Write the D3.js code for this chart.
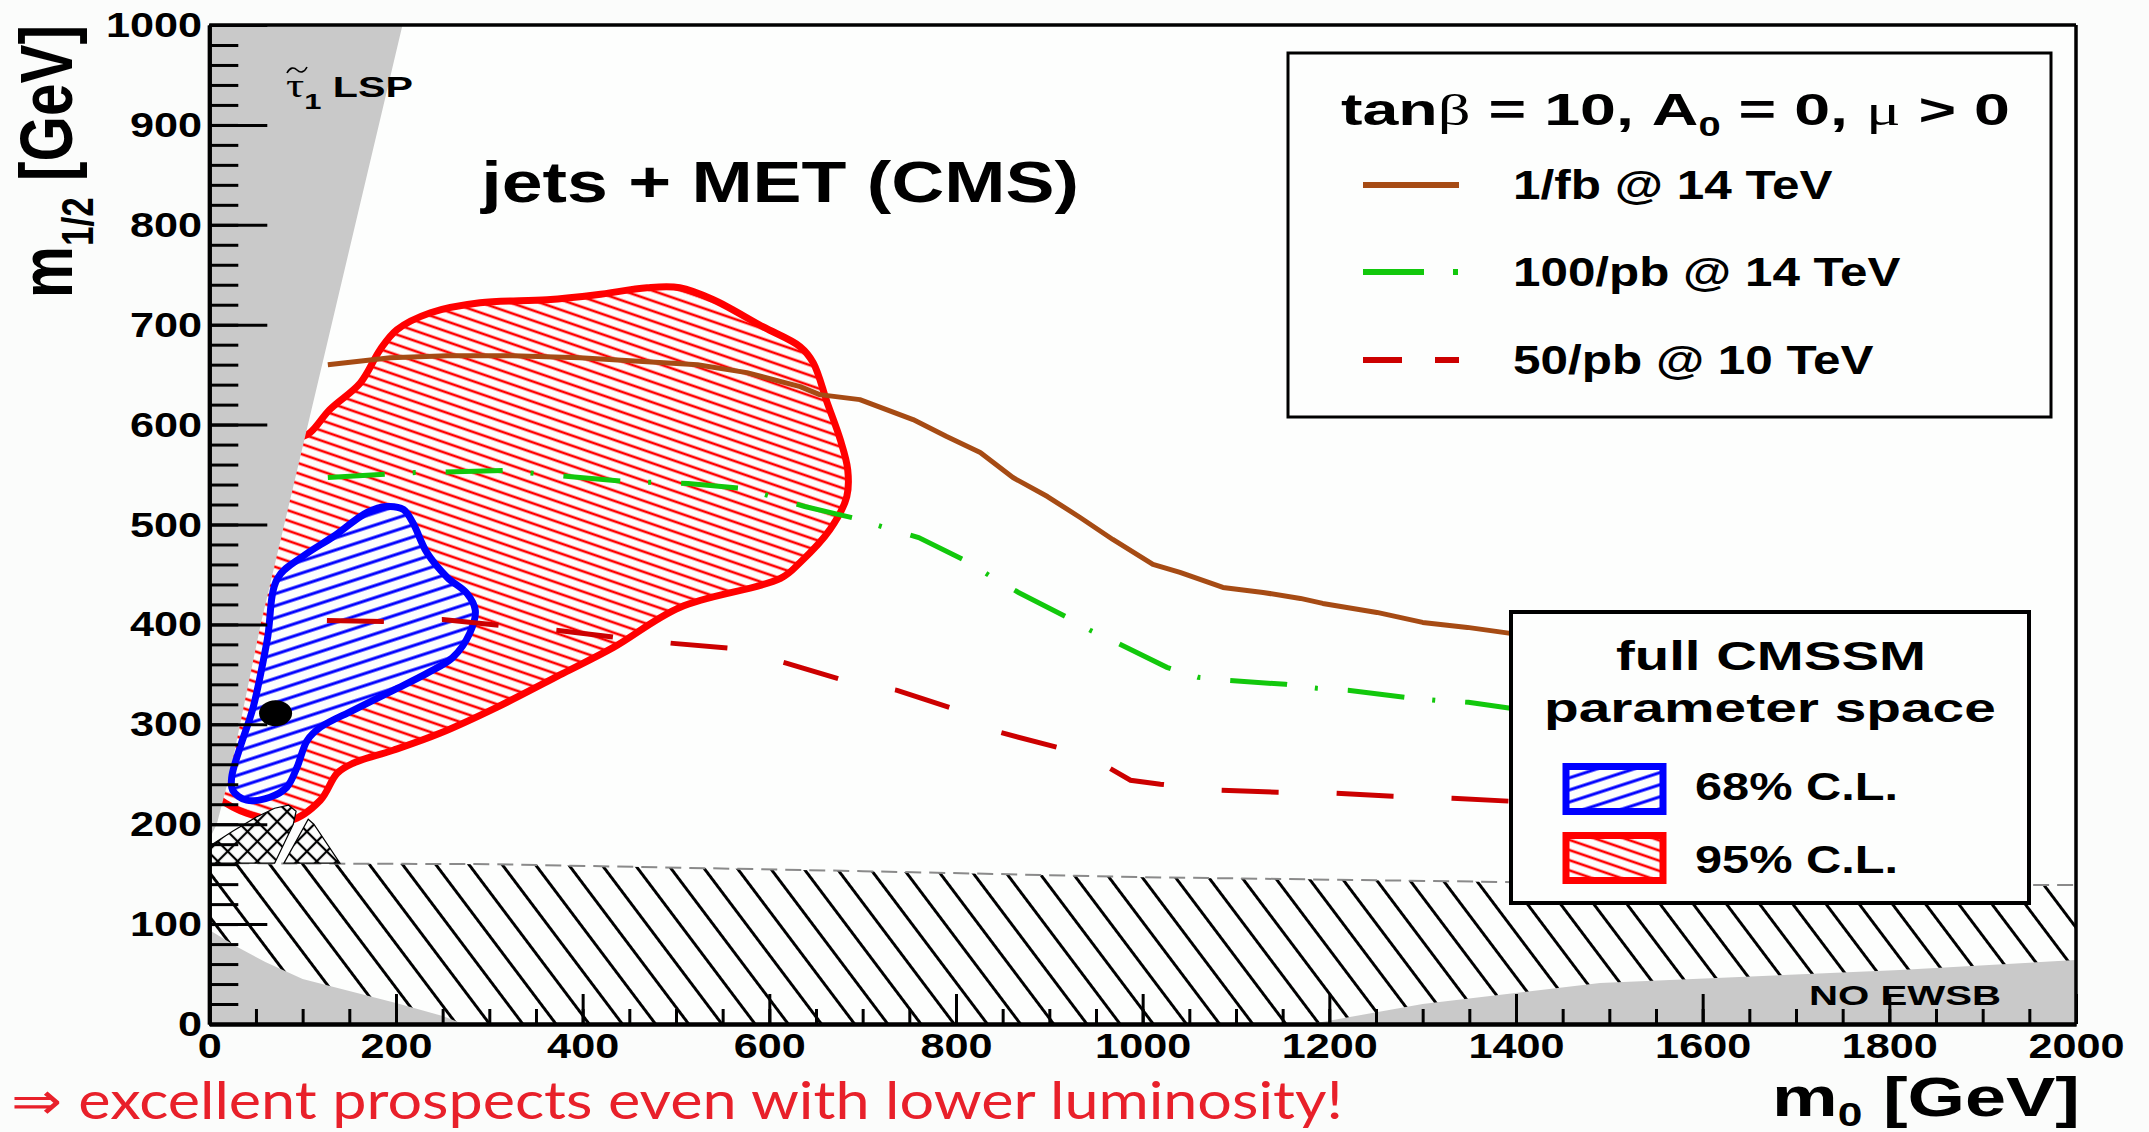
<!DOCTYPE html>
<html><head><meta charset="utf-8">
<script src="https://cdn.jsdelivr.net/npm/d3@7"></script>
<style>
html,body{margin:0;padding:0;background:#fbfcfb;}
svg{display:block;}
</style></head>
<body>
<svg id="chart" width="2149" height="1132"></svg>
<script>
// ---------------- data (m0, m1/2) in GeV ----------------
const m0Domain = [0, 2000];
const m12Domain = [0, 1000];
const xMajorTicks = d3.range(0, 2001, 200);
const xMinorTicks = d3.range(0, 2001, 50);
const yMajorTicks = d3.range(0, 1001, 100);
const yMinorTicks = d3.range(0, 1001, 20);

// CMS jets + MET reach contours
const reach1fb14 = [[127,660],[194,667],[255,669],[325,669],[397,667],[469,663],[523,660],[576,652],[633,638],[654,630],[697,625],[754,605],[790,588],[826,572],[861,547],[898,528],[933,507],[968,485],[1011,460],[1040,452],[1086,437],[1129,432],[1169,426],[1193,421],[1251,412],[1300,402],[1348,397],[1394,391],[1500,378],[1700,360]];
const reach100pb14 = [[127,547],[221,552],[317,554],[385,548],[446,543],[513,541],[574,536],[606,527],[638,518],[697,505],[727,496],[760,487],[812,463],[839,447],[867,432],[917,408],[944,394],[974,381],[1026,357],[1059,347],[1092,344],[1153,340],[1187,336],[1220,334],[1281,327],[1314,324],[1349,322],[1394,316],[1600,305],[1700,298]];
const reach50pb10 = [[126,404],[186,403],[250,405],[312,399],[374,394],[435,387],[497,381],[560,376],[619,361],[676,345],[737,334],[796,316],[847,292],[908,277],[963,257],[987,244],[1019,240],[1081,234],[1144,232],[1206,231],[1268,228],[1332,226],[1394,223],[1600,219],[1700,216]];

// CMSSM fit regions
const cl95 = [[86,580],[108,592],[129,615],[162,642],[183,675],[201,695],[237,712],[290,722],[362,725],[415,730],[469,737],[504,737],[540,725],[593,698],[633,678],[647,662],[662,622],[676,585],[684,555],[683,528],[665,495],[633,462],[612,446],[504,417],[433,377],[379,351],[308,317],[247,291],[197,274],[154,261],[137,251],[119,224],[87,204],[40,211],[8,227],[0,234],[0,300],[40,420],[70,520]];
const cl68 = [[190,518],[208,515],[218,502],[233,472],[255,447],[276,431],[285,414],[279,391],[261,367],[233,351],[197,334],[154,314],[119,297],[105,284],[94,257],[83,237],[65,227],[40,224],[25,234],[24,247],[33,277],[47,317],[62,384],[73,446],[100,468],[133,488],[169,512]];
const bestFit = [71, 311];

// excluded / unphysical regions
const stauLSP = [[0,1000],[207,1000],[112,625],[55,400],[22,250],[8,200],[0,185]];
const lowerLeft = [[0,0],[0,94],[30,77],[60,62],[100,45],[150,33],[200,21],[250,8],[272,0]];
const noEWSB = [[1180,0],[1300,20],[1490,41],[1811,54],[2000,64],[2000,0]];
const lepEdge = [[0,161],[300,160],[700,153],[1000,147],[1400,142],[2000,139]];
const lepBand = [[0,0]].concat(lepEdge, [[2000,0]]);
const crossA = [[0,161],[0,178],[25,193],[50,207],[70,216],[85,219],[93,213],[90,200],[70,161]];
const crossB = [[80,161],[106,205],[112,200],[140,161]];

// legend entries
const legendLines = [
  {label: "1/fb @ 14 TeV",   color: "#a64b14", dash: null,            width: 320},
  {label: "100/pb @ 14 TeV", color: "#12c80c", dash: "61,29,5,200",   width: 388},
  {label: "50/pb @ 10 TeV",  color: "#cc0000", dash: "39,33,24,200",  width: 361}
];
const legendRegions = [
  {label: "68% C.L.", color: "#0000ff", pattern: "hatchBlue"},
  {label: "95% C.L.", color: "#ff0000", pattern: "hatchRed"}
];

// ---------------- setup ----------------
const SANS = "'Liberation Sans', Arial, Helvetica, sans-serif";
const SERIF = "'Liberation Serif', 'DejaVu Serif', serif";
const svg = d3.select("#chart");
const L = 209.3, R = 2076, T = 25, B = 1024;
const x = d3.scaleLinear().domain(m0Domain).range([L, R]);
const y = d3.scaleLinear().domain(m12Domain).range([B, T]);

svg.append("rect").attr("width", 2149).attr("height", 1132).attr("fill", "#fbfcfb");

const defs = svg.append("defs");
function linePattern(id, spacing, angle, color, sw) {
  const p = defs.append("pattern").attr("id", id).attr("patternUnits", "userSpaceOnUse")
    .attr("width", 20).attr("height", spacing).attr("patternTransform", `rotate(${angle})`);
  p.append("line").attr("x1", 0).attr("x2", 20).attr("y1", spacing / 2).attr("y2", spacing / 2)
    .attr("stroke", color).attr("stroke-width", sw);
}
linePattern("hatchBlack", 26.5, 53, "#000", 3);
linePattern("hatchRed", 9.6, 19, "#ff0000", 2.6);
linePattern("hatchBlue", 11.5, -18, "#0000ff", 3);
{
  const p = defs.append("pattern").attr("id", "hatchCross").attr("patternUnits", "userSpaceOnUse")
    .attr("width", 14).attr("height", 14).attr("patternTransform", "rotate(45)");
  p.append("line").attr("x1", 0).attr("x2", 14).attr("y1", 7).attr("y2", 7).attr("stroke", "#000").attr("stroke-width", 2.2);
  p.append("line").attr("y1", 0).attr("y2", 14).attr("x1", 7).attr("x2", 7).attr("stroke", "#000").attr("stroke-width", 2.2);
}
defs.append("clipPath").attr("id", "plotClip").append("rect")
  .attr("x", L).attr("y", T).attr("width", R - L).attr("height", B - T);

const area = d3.line().x(d => x(d[0])).y(d => y(d[1]));
const smoothClosed = d3.line().x(d => x(d[0])).y(d => y(d[1])).curve(d3.curveCatmullRomClosed.alpha(0.5));
const polyline = d3.line().x(d => x(d[0])).y(d => y(d[1]));

const plot = svg.append("g").attr("clip-path", "url(#plotClip)");
plot.append("rect").attr("x", L).attr("y", T).attr("width", R - L).attr("height", B - T).attr("fill", "#fdfefd");

// LEP chargino band (hatched)
plot.append("path").attr("d", area(lepBand) + "Z").attr("fill", "url(#hatchBlack)");
plot.append("path").attr("d", polyline(lepEdge)).attr("fill", "none")
  .attr("stroke", "#8a8a8a").attr("stroke-width", 2).attr("stroke-dasharray", "16,8");

// 95% C.L. region
plot.append("path").attr("d", smoothClosed(cl95)).attr("fill", "url(#hatchRed)");
plot.append("path").attr("d", smoothClosed(cl95)).attr("fill", "none")
  .attr("stroke", "#ff0000").attr("stroke-width", 7).attr("stroke-linejoin", "round");

// cross-hatched excluded patches
[crossA, crossB].forEach(poly => {
  plot.append("path").attr("d", area(poly) + "Z").attr("fill", "#fdfefd");
  plot.append("path").attr("d", area(poly) + "Z").attr("fill", "url(#hatchCross)")
    .attr("stroke", "#000").attr("stroke-width", 1.2);
});

// grey unphysical regions
[stauLSP, lowerLeft, noEWSB].forEach(poly => {
  plot.append("path").attr("d", area(poly) + "Z").attr("fill", "#c9c9c9");
});

// 68% C.L. region
plot.append("path").attr("d", smoothClosed(cl68)).attr("fill", "#fdfefd");
plot.append("path").attr("d", smoothClosed(cl68)).attr("fill", "url(#hatchBlue)");
plot.append("path").attr("d", smoothClosed(cl68)).attr("fill", "none")
  .attr("stroke", "#0000ff").attr("stroke-width", 7).attr("stroke-linejoin", "round");

// best-fit point
plot.append("ellipse").attr("cx", x(bestFit[0])).attr("cy", y(bestFit[1]))
  .attr("rx", 16.5).attr("ry", 13).attr("fill", "#000");

// reach curves
plot.append("path").attr("d", polyline(reach1fb14)).attr("fill", "none")
  .attr("stroke", "#a64b14").attr("stroke-width", 5).attr("stroke-linejoin", "round");
plot.append("path").attr("d", polyline(reach100pb14)).attr("fill", "none")
  .attr("stroke", "#12c80c").attr("stroke-width", 5).attr("stroke-dasharray", "57,28,3,30");
plot.append("path").attr("d", polyline(reach50pb10)).attr("fill", "none")
  .attr("stroke", "#cc0000").attr("stroke-width", 5).attr("stroke-dasharray", "57,58");

// ---------------- text helper ----------------
function fitText(parent, x0, base, width, size, build, opts = {}) {
  const g = parent.append("g");
  const t = g.append("text")
    .attr("font-family", opts.family || SANS)
    .attr("font-weight", opts.weight || "bold")
    .attr("font-size", size)
    .attr("fill", opts.fill || "#000");
  if (typeof build === "string") t.text(build); else build(t, size);
  const bb = t.node().getBBox();
  const sx = width / bb.width;
  g.attr("transform", `translate(${x0},${base}) scale(${sx},1) translate(${-bb.x},0)`);
  return g;
}

// ---------------- legends ----------------
const leg1 = svg.append("g");
leg1.append("rect").attr("x", 1288).attr("y", 53).attr("width", 763).attr("height", 364)
  .attr("fill", "#fdfefd").attr("stroke", "#000").attr("stroke-width", 3);
fitText(leg1, 1341, 125, 669, 44, (t, s) => {
  t.append("tspan").text("tan");
  t.append("tspan").attr("font-family", SERIF).attr("font-weight", "normal").text("β");
  t.append("tspan").text(" = 10, A");
  t.append("tspan").attr("font-size", s * 0.62).attr("dy", s * 0.24).text("0");
  t.append("tspan").attr("dy", -s * 0.24).text(" = 0, ");
  t.append("tspan").attr("font-family", SERIF).attr("font-weight", "normal").text("μ");
  t.append("tspan").text(" > 0");
});
const legBase = [199, 286, 374];
legendLines.forEach((d, i) => {
  const yy = legBase[i] - 14;
  leg1.append("line").attr("x1", 1363).attr("x2", 1459).attr("y1", yy).attr("y2", yy)
    .attr("stroke", d.color).attr("stroke-width", 6).attr("stroke-dasharray", d.dash);
  fitText(leg1, 1513, legBase[i], d.width, 40, d.label);
});

const leg2 = svg.append("g");
leg2.append("rect").attr("x", 1511).attr("y", 612).attr("width", 518).attr("height", 291)
  .attr("fill", "#fdfefd").attr("stroke", "#000").attr("stroke-width", 4);
fitText(leg2, 1616, 670, 310, 40, "full CMSSM");
fitText(leg2, 1544, 722, 452, 40, "parameter space");
const swatchY = [763, 832];
const textBase = [800, 873];
legendRegions.forEach((d, i) => {
  leg2.append("rect").attr("x", 1566).attr("y", swatchY[i] + 3.5).attr("width", 97).attr("height", 45)
    .attr("fill", "#fdfefd");
  leg2.append("rect").attr("x", 1566).attr("y", swatchY[i] + 3.5).attr("width", 97).attr("height", 45)
    .attr("fill", `url(#${d.pattern})`).attr("stroke", d.color).attr("stroke-width", 7);
  fitText(leg2, 1695, textBase[i], 203, 38, d.label);
});

// ---------------- in-plot labels ----------------
fitText(svg, 480, 202, 599, 57, "jets + MET (CMS)");
fitText(svg, 1809, 1005, 192, 28, "NO EWSB");
fitText(svg, 286, 97, 127, 30, (t, s) => {
  t.append("tspan").attr("font-family", SERIF).attr("font-weight", "normal").attr("font-size", s * 1.1).text("τ");
  t.append("tspan").attr("font-size", s * 0.75).attr("dy", s * 0.4).text("1");
  t.append("tspan").attr("dy", -s * 0.4).text(" LSP");
});
// tilde accent over the stau symbol
svg.append("path").attr("d", "M287,73 C290,67 294,67 297,70 C300,73 304,73 307,67")
  .attr("fill", "none").attr("stroke", "#000").attr("stroke-width", 1.6);

// ---------------- axes ----------------
const axes = svg.append("g");
const xAxisMinor = d3.axisBottom(x).tickValues(xMinorTicks).tickSize(-15).tickSizeOuter(0).tickFormat("");
const xAxisMajor = d3.axisBottom(x).tickValues(xMajorTicks).tickSize(-30).tickSizeOuter(0).tickPadding(8).tickFormat(d3.format("d"));
const yAxisMinor = d3.axisLeft(y).tickValues(yMinorTicks).tickSize(-29).tickSizeOuter(0).tickFormat("");
const yAxisMajor = d3.axisLeft(y).tickValues(yMajorTicks).tickSize(-58).tickSizeOuter(0).tickPadding(6).tickFormat(d3.format("d"));

[xAxisMinor, xAxisMajor].forEach(a => axes.append("g").attr("transform", `translate(0,${B})`).call(a));
[yAxisMinor, yAxisMajor].forEach(a => axes.append("g").attr("transform", `translate(${L},0)`).call(a));
axes.selectAll(".tick line").attr("stroke", "#000").attr("stroke-width", 3);
axes.selectAll(".domain").attr("stroke", "#000").attr("stroke-width", 4);
axes.selectAll(".tick text").attr("font-family", SANS).attr("font-weight", "bold")
  .attr("font-size", 36).attr("fill", "#000")
  .attr("transform", "scale(1.2,1)");
// frame top and right
axes.append("line").attr("x1", L).attr("x2", R).attr("y1", T).attr("y2", T).attr("stroke", "#000").attr("stroke-width", 3.5);
axes.append("line").attr("x1", R).attr("x2", R).attr("y1", T).attr("y2", B).attr("stroke", "#000").attr("stroke-width", 3.5);

// axis titles
fitText(svg, 1772, 1116, 308, 56, (t, s) => {
  t.append("tspan").text("m");
  t.append("tspan").attr("font-size", s * 0.6).attr("dy", s * 0.17).text("0");
  t.append("tspan").attr("dy", -s * 0.17).text(" [GeV]");
});
{
  const g = svg.append("g").attr("transform", "translate(72,298) scale(1.2,1) rotate(-90)");
  const inner = g.append("g");
  const s = 62;
  const t = inner.append("text").attr("font-family", SANS).attr("font-weight", "bold")
    .attr("font-size", s).attr("fill", "#000");
  t.append("tspan").text("m");
  t.append("tspan").attr("font-size", s * 0.6).attr("dy", s * 0.28).text("1/2");
  t.append("tspan").attr("dy", -s * 0.28).text(" [GeV]");
  const bb = t.node().getBBox();
  inner.attr("transform", `scale(${273 / bb.width},1) translate(${-bb.x},0)`);
}

// footer remark
fitText(svg, 11, 1119, 1332, 52, "⇒ excellent prospects even with lower luminosity!",
  {family: "Lato, 'Open Sans', sans-serif", weight: "normal", fill: "#e8202a"});
</script>
</body></html>
